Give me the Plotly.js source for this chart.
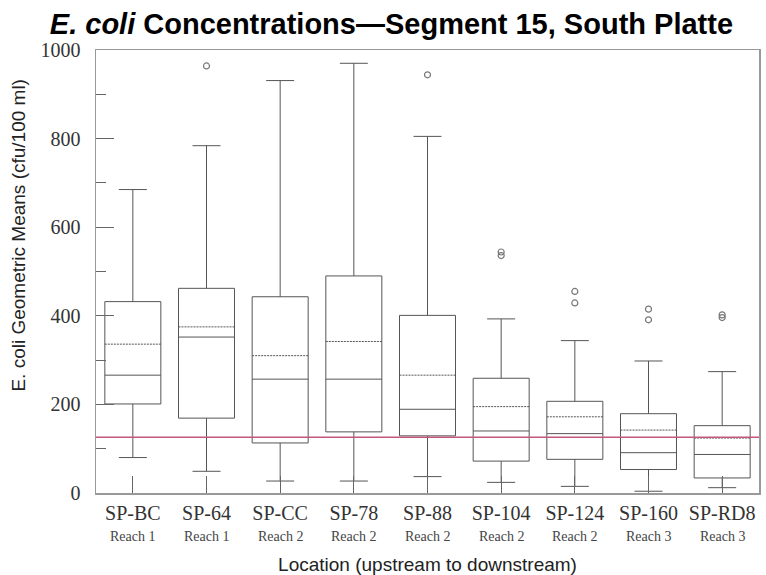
<!DOCTYPE html>
<html>
<head>
<meta charset="utf-8">
<script src="https://cdn.plot.ly/plotly-3.0.1.min.js"></script>
<style>html,body{margin:0;padding:0;background:#fff;}#chart{width:766px;height:575px;}</style>
</head>
<body>
<div id="chart"></div>
<script>
// Data
const locations = ["SP-BC", "SP-64", "SP-CC", "SP-78", "SP-88", "SP-104", "SP-124", "SP-160", "SP-RD8"];
const reaches   = ["Reach 1", "Reach 1", "Reach 2", "Reach 2", "Reach 2", "Reach 2", "Reach 2", "Reach 3", "Reach 3"];
const lowerWhisker = [80, 49, 27, 27, 37, 24, 15, 4, 12];
const q1Values     = [201, 169, 113, 138, 129, 72, 76, 53, 34];
const medianValues = [266, 352, 257, 257, 189, 140, 134, 91, 87];
const meanValues   = [336, 375, 310, 342, 266, 195, 172, 142, 124];
const q3Values     = [432, 462, 443, 490, 401, 259, 207, 179, 152];
const upperWhisker = [685, 784, 931, 970, 805, 393, 344, 298, 274];
const outlierLocations = ["SP-64", "SP-88", "SP-104", "SP-104", "SP-124", "SP-124", "SP-160", "SP-160", "SP-RD8", "SP-RD8"];
const outlierValues    = [964, 944, 544, 536, 455, 429, 415, 391, 402, 396];
const standardValue = 126;
const yTickValues = [0, 200, 400, 600, 800, 1000];

const boxTrace = {
  type: "box",
  x: locations,
  q1: q1Values,
  median: medianValues,
  q3: q3Values,
  mean: meanValues,
  lowerfence: lowerWhisker,
  upperfence: upperWhisker,
  boxmean: true,
  boxpoints: false,
  width: 0.76,
  whiskerwidth: 0.5,
  line: {color: "#555555", width: 1},
  fillcolor: "rgba(255,255,255,0)",
  hoverinfo: "skip",
  showlegend: false
};

const outlierTrace = {
  type: "scatter",
  mode: "markers",
  x: outlierLocations,
  y: outlierValues,
  marker: {symbol: "circle-open", size: 6, color: "#777777", line: {width: 1.2}},
  hoverinfo: "skip",
  showlegend: false
};

const reachAnnotations = locations.map((loc, i) => ({
  x: loc, xref: "x", y: 0, yref: "paper",
  yanchor: "top", yshift: -34,
  text: reaches[i], showarrow: false,
  font: {family: "Liberation Serif, Times New Roman, serif", size: 14, color: "#444"}
}));

const layout = {
  width: 766, height: 575,
  margin: {l: 96, r: 7, t: 50, b: 82},
  paper_bgcolor: "#ffffff", plot_bgcolor: "#ffffff",
  title: {
    text: "<i>E. coli</i> Concentrations—Segment 15, South Platte",
    font: {family: "Liberation Sans, Arial, sans-serif", size: 29, color: "#000", weight: "bold"},
    x: 0.511, xref: "container", xanchor: "center",
    y: 0.959, yref: "container", yanchor: "middle"
  },
  xaxis: {
    type: "category",
    range: [-0.5, 8.5],
    showline: true, linecolor: "#999999", linewidth: 1.5, mirror: true,
    ticks: "inside", ticklen: 17, tickcolor: "#666666", tickwidth: 1,
    ticklabelstandoff: 1,
    tickfont: {family: "Liberation Serif, Times New Roman, serif", size: 20, color: "#333"},
    showgrid: false, zeroline: false, fixedrange: true,
    title: {text: "Location (upstream to downstream)", font: {family: "Liberation Sans, Arial, sans-serif", size: 19, color: "#222"}, standoff: 36}
  },
  yaxis: {
    range: [0, 1000],
    tickvals: yTickValues,
    showline: true, linecolor: "#999999", linewidth: 1.5, mirror: true,
    ticks: "inside", ticklen: 18, tickcolor: "#666666", tickwidth: 1,
    minor: {dtick: 100, tick0: 0, ticks: "inside", ticklen: 10, tickcolor: "#666666", showgrid: false},
    ticklabelstandoff: 10,
    tickfont: {family: "Liberation Serif, Times New Roman, serif", size: 20, color: "#333"},
    showgrid: false, zeroline: false, fixedrange: true
  },
  shapes: [{
    type: "line", xref: "paper", x0: 0, x1: 1, yref: "y", y0: standardValue, y1: standardValue,
    line: {color: "#c4587a", width: 1.5}
  }],
  annotations: reachAnnotations.concat([{
    text: "E. coli Geometric Means (cfu/100 ml)",
    xref: "paper", x: -0.117, xanchor: "center",
    yref: "paper", y: 0.582, yanchor: "middle",
    textangle: -90, showarrow: false,
    font: {family: "Liberation Sans, Arial, sans-serif", size: 19, color: "#222"}
  }])
};

Plotly.newPlot("chart", [boxTrace, outlierTrace], layout, {staticPlot: true, displayModeBar: false});
</script>
</body>
</html>
